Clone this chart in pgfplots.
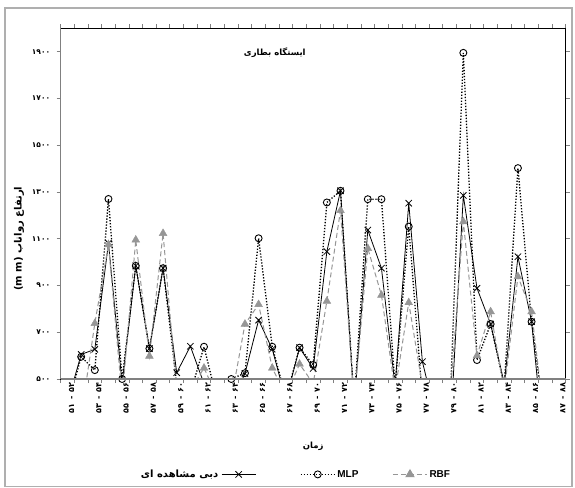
\documentclass[border=0pt]{standalone}
\usepackage{fontspec}
\usepackage{pgfplots}
\usepackage{pgfplotstable}
\pgfplotsset{compat=1.18}
\setmainfont{Liberation Sans}
\newfontfamily\fa[Script=Arabic]{DejaVu Sans}
\TeXXeTstate=1
\definecolor{rbfgray}{RGB}{150,150,150}
\definecolor{axgray}{RGB}{128,128,128}
\definecolor{framegray}{RGB}{175,175,175}

\pgfplotstableread{
i obs mlp rbf
0 400 380 380
1 605 595 340
2 627 538 738
3 1081 1270 1075
4 480 500 420
5 984 984 1095
6 630 630 598
7 974 974 1123
8 527 480 440
9 640 440 450
10 480 638 547
11 380 400 420
12 400 500 413
13 523 525 735
14 752 1102 819
15 628 638 547
16 410 420 430
17 634 634 564
18 545 560 480
19 1045 1255 833
20 1305 1305 1221
21 390 400 400
22 1137 1269 1059
23 974 1269 859
24 470 470 450
25 1252 1152 827
26 574 420 470
27 335 380 380
28 230 340 400
29 1285 1895 1173
30 888 581 600
31 735 735 788
32 480 470 450
33 1023 1402 938
34 745 745 788
35 160 300 300
36 300 300 300
}\datatable

\begin{document}
\begin{tikzpicture}
\useasboundingbox (0,0) rectangle (575bp,488bp);
\draw[framegray, line width=1.2bp] (5bp,1.5bp) rectangle (572bp,480bp);
\begin{axis}[
  at={(60.7bp,109bp)}, anchor=south west,
  scale only axis, width=505bp, height=350.7bp,
  xmin=-0.5, xmax=36.5, ymin=500, ymax=2000,
  clip mode=individual,
  axis line style={black, line width=0.7bp},
  tick align=outside,
  major tick length=4bp,
  tick style={axgray, line width=0.8bp},
  xtick={-0.5,0.5,...,36.5},
  xticklabels={},
  extra x ticks={0,2,...,36},
  extra x tick labels={\beginL۵۱ \,-\, ۵۲\endL,\beginL۵۳ \,-\, ۵۴\endL,\beginL۵۵ \,-\, ۵۶\endL,\beginL۵۷ \,-\, ۵۸\endL,\beginL۵۹ \,-\, ۶۰\endL,\beginL۶۱ \,-\, ۶۲\endL,\beginL۶۳ \,-\, ۶۴\endL,\beginL۶۵ \,-\, ۶۶\endL,\beginL۶۷ \,-\, ۶۸\endL,\beginL۶۹ \,-\, ۷۰\endL,\beginL۷۱ \,-\, ۷۲\endL,\beginL۷۳ \,-\, ۷۴\endL,\beginL۷۵ \,-\, ۷۶\endL,\beginL۷۷ \,-\, ۷۸\endL,\beginL۷۹ \,-\, ۸۰\endL,\beginL۸۱ \,-\, ۸۲\endL,\beginL۸۳ \,-\, ۸۴\endL,\beginL۸۵ \,-\, ۸۶\endL,\beginL۸۷ \,-\, ۸۸\endL},
  extra x tick style={major tick length=0pt, tick label style={rotate=90, anchor=east, font=\fa\bfseries\fontsize{8bp}{9bp}\selectfont, yshift=-4bp}},
  ytick={500,700,...,1900},
  yticklabels={۵۰۰,۷۰۰,۹۰۰,۱۱۰۰,۱۳۰۰,۱۵۰۰,۱۷۰۰,۱۹۰۰},
  yticklabel style={font=\fa\bfseries\fontsize{7.5bp}{8bp}\selectfont, xshift=-3bp},
  xlabel={\beginR زمان\endR},
  xlabel style={at={(axis description cs:0.5,-0.192)}, anchor=center, font=\fa\bfseries\fontsize{8.5bp}{10bp}\selectfont},
  ylabel={\beginR ارتفاع رواناب \beginL(m m)\endL\endR},
  ylabel style={at={(axis description cs:-0.0826,0.40)}, anchor=center, rotate=0, font=\fa\bfseries\fontsize{10bp}{11bp}\selectfont},
  legend style={at={(axis description cs:0.465,-0.272)}, anchor=center, draw=none, fill=none,
    font=\bfseries\fontsize{10bp}{11bp}\selectfont,
    /tikz/column 2/.style={column sep=1bp},
    /tikz/column 4/.style={column sep=40bp},
    /tikz/column 6/.style={column sep=32bp}},
  legend columns=4,
  legend image code/.code={\draw[mark repeat=2,mark phase=2,#1] plot coordinates {(0cm,0cm) (0.6cm,0cm) (1.2cm,0cm)};},
]
\addlegendimage{empty legend}
\addlegendentry{\fa\beginR دبی مشاهده ای\endR}
\addlegendimage{black, line width=0.8bp, mark=x, mark size=4.5bp, mark options={solid, line width=0.8bp}}
\addlegendentry{}
\addlegendimage{black, line width=1.3bp, dash pattern=on 1.3bp off 1.7bp, mark=o, mark size=3.5bp, mark options={solid, line width=0.9bp}}
\addlegendentry{MLP}
\addlegendimage{rbfgray, line width=1bp, dash pattern=on 5bp off 3bp, mark=triangle*, mark size=4.5bp, mark options={solid, fill=rbfgray, draw=rbfgray}}
\addlegendentry{RBF}

\addplot[black, line width=0.8bp, no markers, forget plot] table[x=i, y=obs] {\datatable};
\addplot[black, line width=1.3bp, dash pattern=on 1.3bp off 1.7bp, no markers, forget plot] table[x=i, y=mlp] {\datatable};
\addplot[rbfgray, line width=1bp, dash pattern=on 5bp off 3bp, no markers, forget plot] table[x=i, y=rbf] {\datatable};

\addplot[only marks, mark=x, mark size=4.5bp, mark options={black, line width=0.8bp}, restrict y to domain=499:2001, forget plot] table[x=i, y=obs] {\datatable};
\addplot[only marks, mark=o, mark size=3.5bp, mark options={black, line width=0.9bp}, restrict y to domain=499:2001, forget plot] table[x=i, y=mlp] {\datatable};
\addplot[only marks, mark=triangle*, mark size=4.5bp, mark options={fill=rbfgray, draw=rbfgray}, restrict y to domain=499:2001, forget plot] table[x=i, y=rbf] {\datatable};

\draw[axgray, line width=1.5bp] (rel axis cs:0,0) -- (rel axis cs:1,0);
\draw[axgray, line width=1.5bp] (rel axis cs:0,0) -- (rel axis cs:0,1);

\node[font=\fa\bfseries\fontsize{8.5bp}{10bp}\selectfont] at (rel axis cs:0.424,0.93) {\beginR ایستگاه بطاری\endR};
\end{axis}
\end{tikzpicture}
\end{document}
